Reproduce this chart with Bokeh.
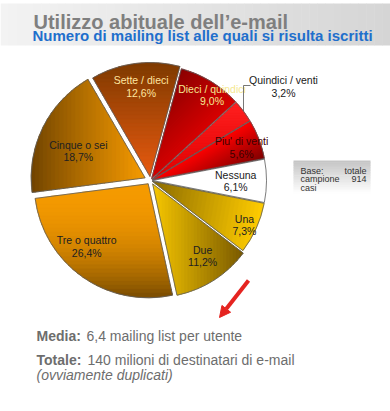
import numpy as np
from bokeh.plotting import figure
from bokeh.models import ColumnDataSource, Arrow, NormalHead
from bokeh.embed import file_html
from bokeh.resources import INLINE
from bokeh.core.properties import value

# ---------------- data ----------------
title = "Utilizzo abituale dell\u2019e-mail"
subtitle = "Numero di mailing list alle quali si risulta iscritti"
categories = ["Nessuna", "Una", "Due", "Tre o quattro", "Cinque o sei",
              "Sette / dieci", "Dieci / quindici", "Quindici / venti", "Piu' di venti"]
shares = [6.1, 7.3, 11.2, 26.4, 18.7, 12.6, 9.0, 3.2, 5.6]
base_left = ["Base:", "campione", "casi"]
base_right = ["totale", "914", ""]
media_label = "Media:"
media_text = "6,4 mailing list per utente"
totale_label = "Totale:"
totale_text = "140 milioni di destinatari di e-mail"
totale_note = "(ovviamente duplicati)"

# ---------------- styles ----------------
grad_c0 = ["#ffffff", "#8a6a00", "#f8c800", "#f59a00", "#6e4200",
           "#7e3a00", "#8a0000", "#ff2020", "#ff0000"]
grad_c1 = ["#ffffff", "#ffcc00", "#7a5a00", "#7a4c00", "#f59a00",
           "#e85a10", "#d80000", "#e00000", "#800000"]
grad_gamma = [1, 1, 1, 2.2, 0.9, 1, 1, 1, 1]
grad_dir = [0, -10, 0, -90, 0, -90, -45, -90, -60]
explode = [2, 2, 4, 4, 6, 4, 2, 2, 2]
label_colors = ["#202020", "#202020", "#202020", "#202020", "#202020",
                "#ffe6a0", "#f5e890", "#202020", "#3a0000"]
# label nudges in screen pixels (right, down)
label_nudge_x = [-8, 9, 1, -9, 15, 3, 13, 0, 4]
label_nudge_y = [0, 6, -5, -12, 13, 0, -6, 0, 0]
outside = [False, False, False, False, False, False, False, True, False]
LABEL_FONT = value("Liberation Sans")

W, H = 390, 411


def X(px):
    return px


def Y(py):
    return H - py


cx, cy, R = X(150), Y(180), 114
start_deg = 10.8


def hex2rgb(h):
    h = h.lstrip("#")
    return np.array([int(h[i:i + 2], 16) for i in (0, 2, 4)], dtype=float)


def lerp_col(a, b, t):
    c = hex2rgb(a) * (1 - t) + hex2rgb(b) * t
    return "#%02x%02x%02x" % tuple(int(round(v)) for v in c)


def clip(poly, d, s0, keep_ge):
    out = []
    n = len(poly)
    for i in range(n):
        P, Q = poly[i], poly[(i + 1) % n]
        sp, sq = P @ d - s0, Q @ d - s0
        if not keep_ge:
            sp, sq = -sp, -sq
        if sp >= 0:
            out.append(P)
        if (sp >= 0) != (sq >= 0):
            t = sp / (sp - sq)
            out.append(P + (Q - P) * t)
    return out


p = figure(width=W, height=H, x_range=(0, W), y_range=(0, H),
           output_backend="svg", toolbar_location=None, min_border=0,
           x_axis_location=None, y_axis_location=None)
p.xgrid.visible = False
p.ygrid.visible = False
p.outline_line_color = None
p.background_fill_color = "white"
p.border_fill_color = "white"

# ---- title band (horizontal gradient) ----
nb = 48
bx = np.linspace(0, W, nb + 1)
p.quad(left=bx[:-1], right=bx[1:] + 0.5, bottom=Y(45), top=Y(3),
       fill_color=[lerp_col("#f3f3f3", "#d5d5d5", (i + 0.5) / nb) for i in range(nb)],
       line_color=None)
p.text(x=[X(33)], y=[Y(21)], text=[title], text_font=value("Liberation Sans"),
       text_font_size="20px", text_font_style="bold", text_color="#7f7f7f",
       text_baseline="alphabetic")
p.text(x=[X(32)], y=[Y(35)], text=[subtitle], text_font=value("Liberation Sans"),
       text_font_size="15px", text_font_style="bold", text_color="#1f6fcc",
       text_baseline="alphabetic")

# ---- pie ----
total = float(sum(shares))
cum = np.concatenate([[0], np.cumsum(shares)])
a_hi = np.radians(start_deg - 360 * cum[:-1] / total)
a_lo = np.radians(start_deg - 360 * cum[1:] / total)
mid = (a_hi + a_lo) / 2
ox = cx + np.array(explode) * np.cos(mid)
oy = cy + np.array(explode) * np.sin(mid)

gxs, gys, gcols = [], [], []
ns = 28
for i in range(len(shares)):
    th = np.linspace(a_lo[i], a_hi[i], 80)
    poly = [np.array([ox[i], oy[i]])] + [np.array([ox[i] + R * np.cos(t), oy[i] + R * np.sin(t)]) for t in th]
    d = np.array([np.cos(np.radians(grad_dir[i])), np.sin(np.radians(grad_dir[i]))])
    s = np.array([q @ d for q in poly])
    smin, smax = s.min(), s.max()
    edges = np.linspace(smin, smax, ns + 1)
    for k in range(ns):
        piece = clip(poly, d, edges[k] - 0.4, True)
        if len(piece) < 3:
            continue
        piece = clip(piece, d, edges[k + 1] + 0.4, False)
        if len(piece) < 3:
            continue
        arr = np.array(piece)
        gxs.append(list(arr[:, 0]))
        gys.append(list(arr[:, 1]))
        gcols.append(lerp_col(grad_c0[i], grad_c1[i], ((k + 0.5) / ns) ** grad_gamma[i]))

p.patches(xs=gxs, ys=gys, fill_color=gcols, line_color=gcols, line_width=0.5)

pie_src = ColumnDataSource(dict(x=ox, y=oy, start=a_lo, end=a_hi, cat=categories, share=shares))
p.wedge(x="x", y="y", radius=R, start_angle="start", end_angle="end",
        source=pie_src, fill_alpha=0, line_color="#5a5a5a", line_width=0.8)

# ---- slice labels ----
pct = [("%.1f" % v).replace(".", ",") + "%" for v in shares]
lr = 0.8 * R
in_idx = [i for i in range(len(shares)) if not outside[i]]
lx = [ox[i] + lr * np.cos(mid[i]) + label_nudge_x[i] for i in in_idx]
ly = [oy[i] + lr * np.sin(mid[i]) - label_nudge_y[i] for i in in_idx]
lab_src = ColumnDataSource(dict(
    x=lx, y1=[v + 6 for v in ly], y2=[v - 6.5 for v in ly],
    name=[categories[i] for i in in_idx], pct=[pct[i] for i in in_idx],
    col=[label_colors[i] for i in in_idx]))
p.text(x="x", y="y1", text="name", source=lab_src, text_font=LABEL_FONT,
       text_font_size="10.5px", text_color="col", text_align="center", text_baseline="middle")
p.text(x="x", y="y2", text="pct", source=lab_src, text_font=LABEL_FONT,
       text_font_size="10.5px", text_color="col", text_align="center", text_baseline="middle")

# outside label with leader line
for i in range(len(shares)):
    if outside[i]:
        px0 = ox[i] + R * np.cos(mid[i])
        py0 = oy[i] + R * np.sin(mid[i])
        ey = Y(85)
        p.line(x=[px0, px0, px0 + 7], y=[py0, ey, ey], line_color="#555555", line_width=0.8)
        p.text(x=[px0 + 40], y=[ey + 6], text=[categories[i]], text_font=LABEL_FONT,
               text_font_size="10.5px", text_color=label_colors[i], text_align="center",
               text_baseline="middle")
        p.text(x=[px0 + 40], y=[ey - 7], text=[pct[i]], text_font=LABEL_FONT,
               text_font_size="10.5px", text_color=label_colors[i], text_align="center",
               text_baseline="middle")

# ---- base box ----
nbb = 20
by = np.linspace(Y(160), Y(193), nbb + 1)
p.quad(left=X(293), right=X(370), top=by[:-1], bottom=by[1:] - 0.5,
       fill_color=[lerp_col("#c4c4c4", "#ffffff", (i + 0.5) / nbb) for i in range(nbb)],
       line_color=None)
rows_y = [Y(170), Y(178.5), Y(187)]
p.text(x=[X(300)] * 3, y=rows_y, text=base_left, text_font=LABEL_FONT,
       text_font_size="9px", text_color="#333333", text_baseline="middle")
p.text(x=[X(366)] * 3, y=rows_y, text=base_right, text_font=LABEL_FONT,
       text_font_size="9px", text_color="#333333", text_baseline="middle", text_align="right")

# ---- arrow ----
p.add_layout(Arrow(end=NormalHead(size=11, fill_color="#e52420", line_color="#e52420"),
                   x_start=X(248), y_start=Y(280), x_end=X(219), y_end=Y(317),
                   line_color="#e52420", line_width=4))

# ---- bottom notes ----
TXT = value("Liberation Sans")
p.text(x=[X(36), X(36)], y=[Y(335), Y(359)], text=[media_label, totale_label], text_font=TXT,
       text_font_size="14px", text_font_style="bold", text_color="#6d6d6d",
       text_baseline="alphabetic")
p.text(x=[X(86), X(87)], y=[Y(335), Y(359)], text=[media_text, totale_text], text_font=TXT,
       text_font_size="14px", text_color="#6d6d6d", text_baseline="alphabetic")
p.text(x=[X(36)], y=[Y(374)], text=[totale_note], text_font=TXT,
       text_font_size="14px", text_font_style="italic", text_color="#6d6d6d",
       text_baseline="alphabetic")

open("out.html", "w").write(file_html(p, INLINE))
